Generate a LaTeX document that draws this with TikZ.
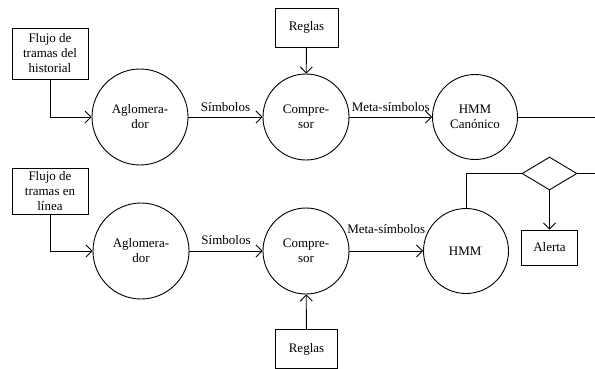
\documentclass[tikz,border=0pt]{standalone}
\usepackage{fontspec}
\setmainfont{Liberation Serif}
\usetikzlibrary{arrows.meta}
\usetikzlibrary{shapes.geometric}

\begin{document}
\begin{tikzpicture}[x=1pt, y=-1pt, line width=0.9pt, >={Straight Barb[length=6pt,width=12pt]},
    every node/.style={font=\fontsize{13}{15}\selectfont, align=center}]
		\tikzstyle{unit}=[draw,shape=circle,inner sep=0pt]
		\tikzstyle{block}=[draw,shape=rectangle,inner sep=0pt]
		\useasboundingbox (0,0) rectangle (595,368);

    % Historical stream
		\node[block,minimum width=76pt,minimum height=51pt](flujoH) at (50,53.5){Flujo de\\tramas del\\historial};
		\node[unit,minimum size=96pt](agloH) at (140,117){Aglomera-\\dor};
		\node[unit,minimum size=86pt](compH) at (306,117){Compre-\\sor};
		\node[block,minimum width=63pt,minimum height=39pt](reglasH) at (306.5,27.5){Reglas};
		\node[unit,minimum size=85pt](hmmC) at (475,117){HMM\\Canónico};
		\coordinate(outC) at (595,117);

    % Online stream
		\node[block,minimum width=76pt,minimum height=46pt](flujoL) at (50,191){Flujo de\\tramas en\\línea};
		\node[unit,minimum size=96pt](agloL) at (141,251){Aglomera-\\dor};
		\node[unit,minimum size=86pt](compL) at (306,251){Compre-\\sor};
		\node[block,minimum width=62pt,minimum height=39pt](reglasL) at (306.5,349){Reglas};
		\node[unit,minimum size=85pt](hmmP) at (466,251){HMM\raisebox{0.8ex}{\tiny '}};

    % Decision
		\node[draw,shape=diamond,aspect=1.67,minimum width=55pt,minimum height=33pt,inner sep=0pt](dec) at (549.5,173.5){};
		\coordinate(outD) at (595,173.5);
		\node[block,minimum width=56pt,minimum height=35pt](alerta) at (549.5,247.5){Alerta};

		\draw[->] (flujoH.south) |- (agloH.west);
		\draw[->] (agloH) -- node[above=2pt]{Símbolos} (compH);
		\draw[->] (reglasH) -- (compH);
		\draw[->] (compH) -- node[above=2pt]{Meta-símbolos} (hmmC);
		\draw (hmmC) -- (outC);

		\draw[->] (flujoL.south) |- (agloL.west);
		\draw[->] (agloL) -- node[above=3pt]{Símbolos} (compL);
		\draw[->] (reglasL) -- (compL);
		\draw[->] (compL) -- node[above=14pt]{Meta-símbolos} (hmmP);

		\draw (hmmP.north) |- (dec.west);
		\draw (dec.east) -- (outD);
		\draw[->] (dec.south) -- (alerta.north);
  \end{tikzpicture}
\end{document}
